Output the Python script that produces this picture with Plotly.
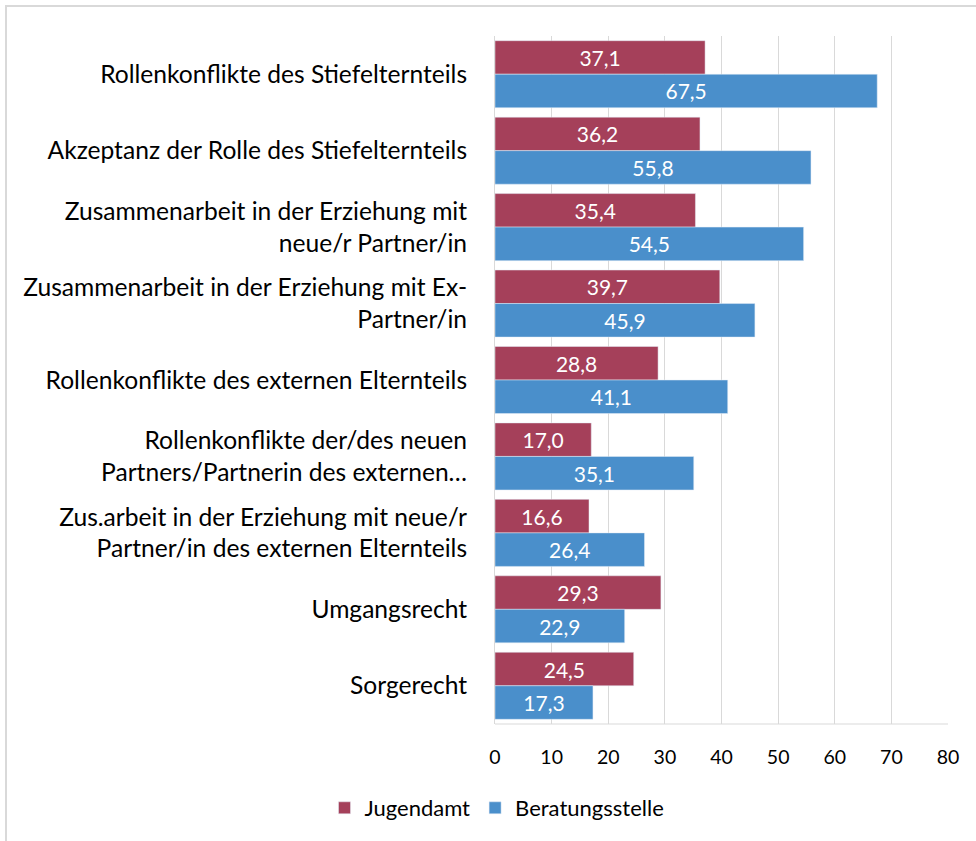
import plotly.graph_objects as go

categories = [
    "Rollenkonflikte des Stiefelternteils",
    "Akzeptanz der Rolle des Stiefelternteils",
    "Zusammenarbeit in der Erziehung mit<br>neue/r Partner/in",
    "Zusammenarbeit in der Erziehung mit Ex-<br>Partner/in",
    "Rollenkonflikte des externen Elternteils",
    "Rollenkonflikte der/des neuen<br>Partners/Partnerin des externen…",
    "Zus.arbeit in der Erziehung mit neue/r<br>Partner/in des externen Elternteils",
    "Umgangsrecht",
    "Sorgerecht",
]
jugendamt = [37.1, 36.2, 35.4, 39.7, 28.8, 17.0, 16.6, 29.3, 24.5]
beratungsstelle = [67.5, 55.8, 54.5, 45.9, 41.1, 35.1, 26.4, 22.9, 17.3]
x_ticks = [0, 10, 20, 30, 40, 50, 60, 70, 80]

FONT = "Lato"

def fmt(v):
    return f"{v:.1f}".replace(".", ",")

fig = go.Figure()
fig.add_trace(go.Bar(
    y=categories, x=jugendamt, name="Jugendamt", orientation="h",
    marker_color="#A5405A",
    text=[fmt(v) for v in jugendamt], textposition="inside",
    insidetextanchor="middle", textangle=0,
    textfont=dict(color="white", size=21, family=FONT),
))
fig.add_trace(go.Bar(
    y=categories, x=beratungsstelle, name="Beratungsstelle", orientation="h",
    marker_color="#4A8FCB",
    text=[fmt(v) for v in beratungsstelle], textposition="inside",
    insidetextanchor="middle", textangle=0,
    textfont=dict(color="white", size=21, family=FONT),
))

L, R, T, B = 495, 28, 36, 117
W, H = 976, 841
pw = W - L - R
ph = H - T - B

fig.update_layout(
    width=W, height=H,
    margin=dict(l=L, r=R, t=T, b=B),
    barmode="group", bargap=0.123, bargroupgap=0,
    plot_bgcolor="white", paper_bgcolor="white",
    font=dict(family=FONT, color="#000000"),
    showlegend=True,
    uniformtext=dict(mode="show", minsize=10),
    legend=dict(
        orientation="h", xref="container", yref="container",
        x=497 / W, xanchor="center", y=(H - 808) / H, yanchor="middle",
        font=dict(size=22, family=FONT, color="#000000"),
        itemwidth=30, traceorder="normal",
    ),
    xaxis=dict(
        range=[0, 80], tickvals=x_ticks, ticktext=[str(t) for t in x_ticks],
        showgrid=True, gridcolor="#D9D9D9", gridwidth=1,
        zeroline=False, showline=False, ticks="",
        tickfont=dict(size=19.5, family=FONT, color="#000000"),
        ticklabelstandoff=19,
    ),
    yaxis=dict(
        autorange="reversed", showgrid=False, zeroline=False,
        showline=True, linecolor="#D9D9D9", linewidth=1, ticks="",
        tickfont=dict(size=24.6, family=FONT, color="#000000"),
        ticklabelstandoff=22,
    ),
    shapes=[
        dict(type="line", xref="paper", yref="paper",
             x0=0, x1=1, y0=0, y1=0, line=dict(color="#D9D9D9", width=1)),
        dict(type="rect", xref="paper", yref="paper",
             x0=(6 - L) / pw, x1=1.2, y0=-0.3, y1=1 + (T - 6) / ph,
             line=dict(color="#D9D9D9", width=2), fillcolor="rgba(0,0,0,0)",
             layer="below"),
    ],
)

fig.write_html(
    "out.html",
    config={"displayModeBar": False},
    post_script="document.body.style.margin='0';document.body.style.overflow='hidden';",
)
